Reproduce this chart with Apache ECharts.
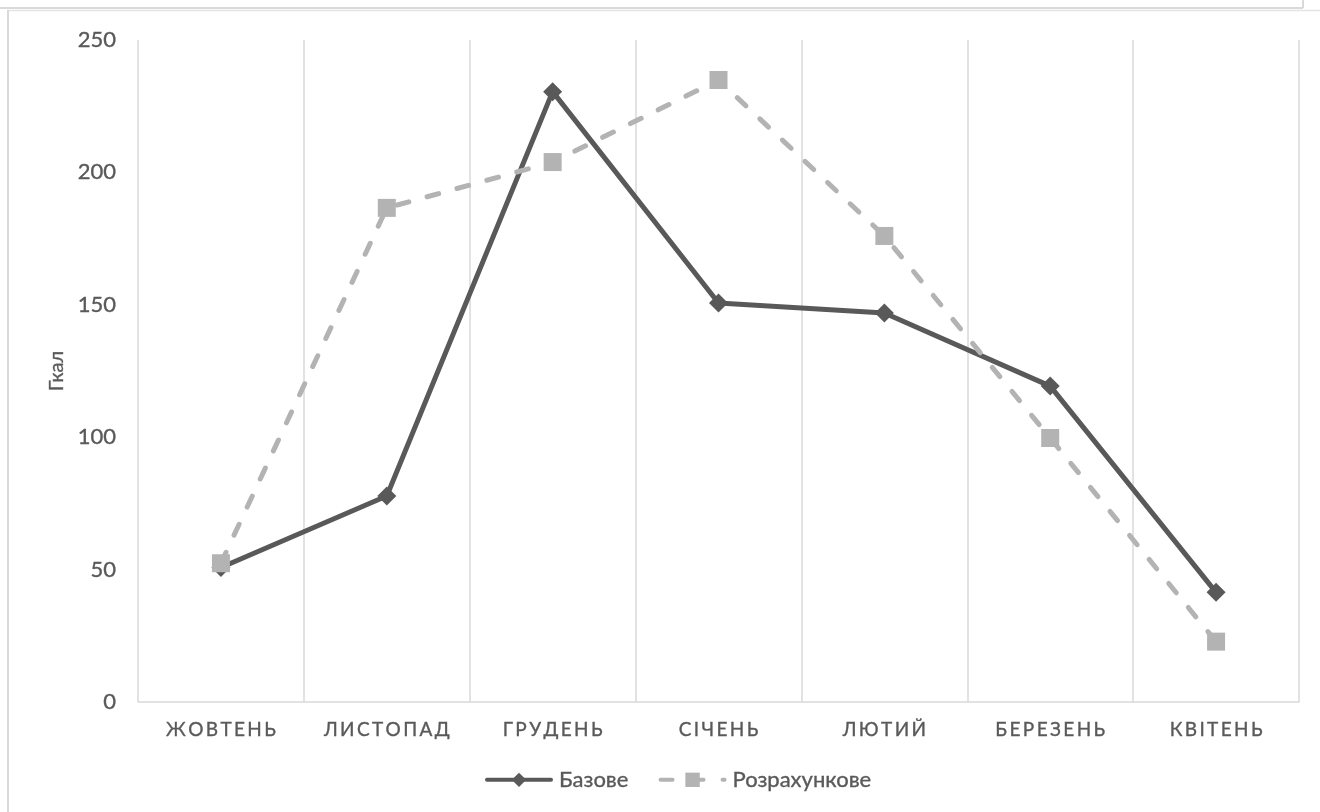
<!DOCTYPE html>
<html>
<head>
<meta charset="utf-8">
<title>Гкал</title>
<script src="https://cdn.jsdelivr.net/npm/echarts@6/dist/echarts.min.js"></script>
<style>
  html, body { margin: 0; padding: 0; background: #ffffff; }
  #chart { width: 1320px; height: 812px; }
</style>
</head>
<body>
<div id="chart"></div>
<script>
// Monthly heat consumption, Gcal
const months = ['ЖОВТЕНЬ', 'ЛИСТОПАД', 'ГРУДЕНЬ', 'СІЧЕНЬ', 'ЛЮТИЙ', 'БЕРЕЗЕНЬ', 'КВІТЕНЬ'];
const baseValues = [50.8, 77.8, 230.5, 150.7, 146.9, 119.3, 41.4];
const calcValues = [52.4, 186.6, 203.9, 234.9, 176.0, 99.7, 22.8];
const seriesNames = ['Базове', 'Розрахункове'];
const yTicks = { min: 0, max: 250, interval: 50 };
const unitName = 'Гкал';

const FONT = 'Lato, "Open Sans", sans-serif';
const TEXT = '#595959';
const GRID = '#d9d9d9';

// slightly heavier glyph strokes for all labels
const ink = { textBorderColor: TEXT, textBorderWidth: 0.35 };

// spread capital letters of the month names apart
const spaced = s => s.split('').join('\u2009');

const chart = echarts.init(document.getElementById('chart'));
chart.setOption({
  backgroundColor: '#ffffff',
  animation: false,
  textStyle: { fontFamily: FONT },
  grid: { left: 138, right: 21, top: 40, bottom: 110, containLabel: false },
  legend: {
    bottom: 16,
    left: 480,
    itemWidth: 64,
    itemHeight: 18,
    itemGap: 30,
    lineStyle: { width: 4 },
    textStyle: Object.assign({ color: TEXT, fontSize: 22, fontFamily: FONT, padding: [0, 0, 0, 3] }, ink),
    data: seriesNames
  },
  xAxis: {
    type: 'category',
    data: months,
    boundaryGap: true,
    axisLine: { lineStyle: { color: GRID, width: 1.5 } },
    axisTick: { show: false },
    splitLine: { show: true, lineStyle: { color: GRID, width: 1.5 } },
    axisLabel: Object.assign({
      color: TEXT, fontSize: 19, fontFamily: FONT, margin: 18,
      formatter: v => spaced(v)
    }, ink)
  },
  yAxis: {
    type: 'value',
    min: yTicks.min, max: yTicks.max, interval: yTicks.interval,
    name: unitName,
    nameLocation: 'middle',
    nameRotate: 90,
    nameGap: 66,
    nameTextStyle: Object.assign({ color: TEXT, fontSize: 20, fontFamily: FONT }, ink),
    axisLine: { show: false },
    axisTick: { show: false },
    splitLine: { show: false },
    axisLabel: Object.assign({ color: TEXT, fontSize: 22, fontFamily: FONT, margin: 22 }, ink)
  },
  graphic: [
    { type: 'line', silent: true, shape: { x1: 0, y1: 8, x2: 1303, y2: 8 }, style: { stroke: GRID, lineWidth: 2 } },
    { type: 'line', silent: true, shape: { x1: 1303, y1: 0, x2: 1303, y2: 8 }, style: { stroke: GRID, lineWidth: 2 } },
    { type: 'line', silent: true, shape: { x1: 8, y1: 10.5, x2: 1320, y2: 10.5 }, style: { stroke: '#e4e4e4', lineWidth: 1.5 } },
    { type: 'line', silent: true, shape: { x1: 8, y1: 10, x2: 8, y2: 812 }, style: { stroke: GRID, lineWidth: 2 } }
  ],
  series: [
    {
      name: seriesNames[0],
      type: 'line',
      data: baseValues,
      symbol: 'diamond',
      symbolSize: [19, 19],
      itemStyle: { color: '#595959' },
      lineStyle: { color: '#595959', width: 5, cap: 'round', join: 'round' }
    },
    {
      name: seriesNames[1],
      type: 'line',
      data: calcValues,
      symbol: 'rect',
      symbolSize: 18,
      itemStyle: { color: '#b3b3b3' },
      lineStyle: { color: '#b3b3b3', width: 5, type: [12, 19], cap: 'round', join: 'round' }
    }
  ]
});
</script>
</body>
</html>
